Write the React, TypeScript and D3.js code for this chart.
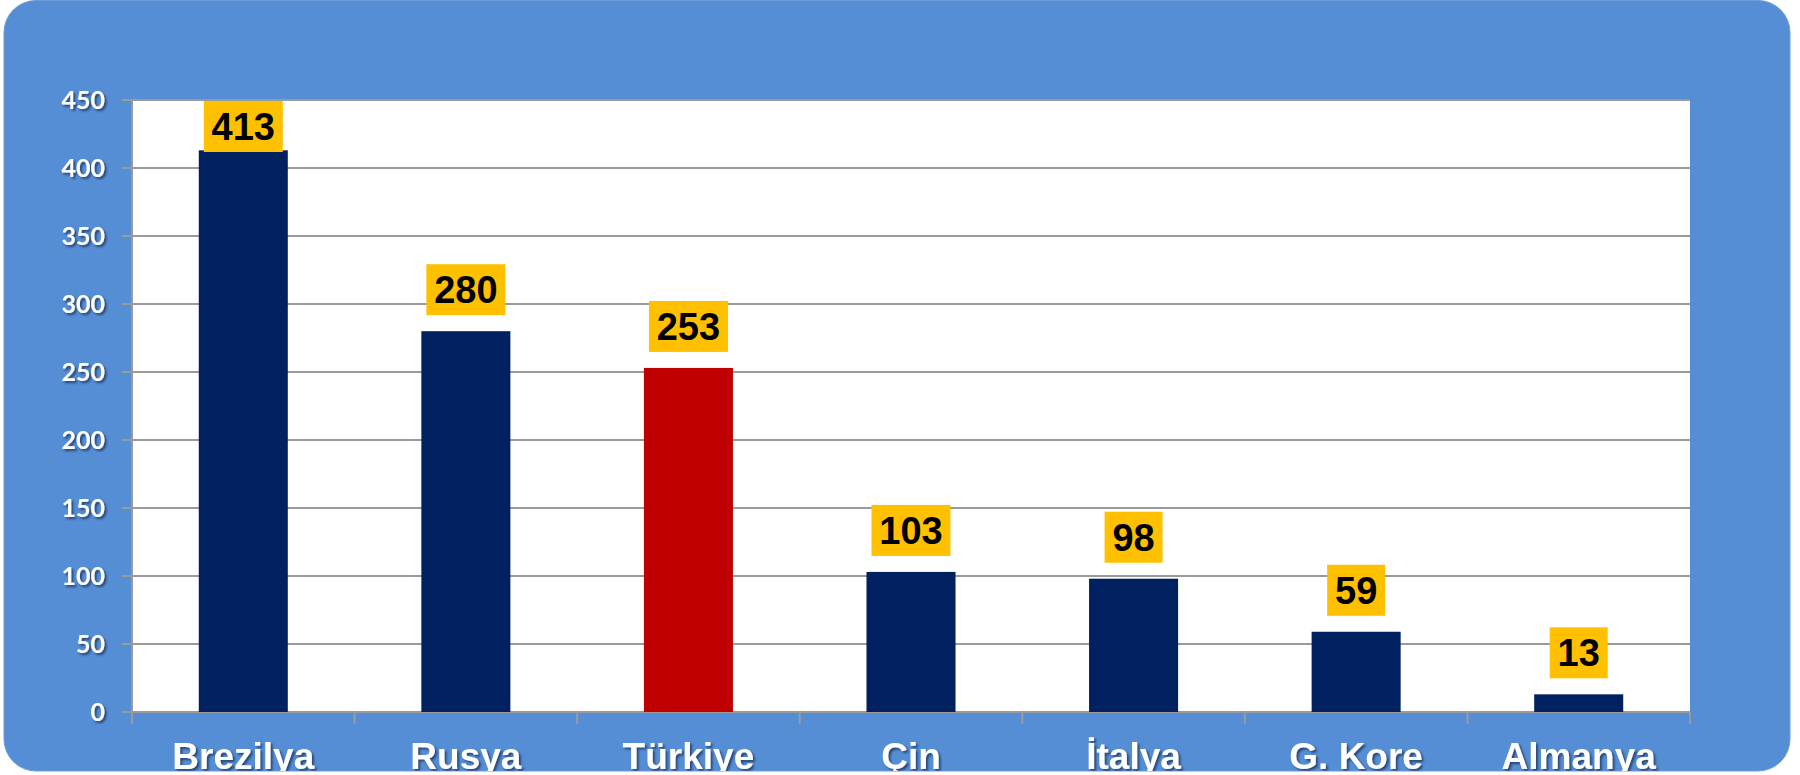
import React from "react";
import * as d3 from "d3";

const categories = ["Brezilya", "Rusya", "Türkiye", "Çin", "İtalya", "G. Kore", "Almanya"];
const values = [413, 280, 253, 103, 98, 59, 13];
const highlighted = "Türkiye";
const yTicks = [0, 50, 100, 150, 200, 250, 300, 350, 400, 450];

const W = 1800;
const H = 775;
const plot = { left: 132, right: 1690, top: 100, bottom: 712 };

export default function App() {
  const x = d3
    .scaleBand<string>()
    .domain(categories)
    .range([plot.left, plot.right])
    .paddingInner(0.6)
    .paddingOuter(0.3);
  const y = d3.scaleLinear().domain([0, 450]).range([plot.bottom, plot.top]);
  const step = x.step();
  const boundaries = d3.range(categories.length + 1).map((i) => plot.left + i * step);

  const labelFont = "'Liberation Sans', Arial, sans-serif";
  const tickFont = "Lato, 'Open Sans', sans-serif";

  return (
    <div style={{ position: "absolute", left: 0, top: 0 }}>
      <svg width={W} height={H} style={{ display: "block" }}>
        <defs>
          <filter id="shadow" x="-10%" y="-20%" width="130%" height="150%">
            <feDropShadow dx="2" dy="2" stdDeviation="1.2" floodColor="#1a2f55" floodOpacity="0.75" />
          </filter>
          <clipPath id="panelClip">
            <rect x={4} y={0} width={1786} height={771} rx={32} ry={32} />
          </clipPath>
        </defs>
        <rect x={0} y={0} width={W} height={H} fill="#ffffff" />
        <rect x={4} y={0.5} width={1786} height={770.5} rx={32} ry={32} fill="#558ED5" stroke="#6b9ddc" strokeWidth={1} />
        <rect
          x={plot.left}
          y={plot.top}
          width={plot.right - plot.left}
          height={plot.bottom - plot.top}
          fill="#ffffff"
        />
        {/* gridlines */}
        {yTicks.map((t) => (
          <line
            key={"g" + t}
            x1={plot.left - 10}
            x2={plot.right}
            y1={y(t)}
            y2={y(t)}
            stroke="#9a9a9a"
            strokeWidth={2}
          />
        ))}
        {/* left axis */}
        <line x1={plot.left} x2={plot.left} y1={plot.top} y2={plot.bottom} stroke="#9a9a9a" strokeWidth={2} />
        {/* bottom axis ticks */}
        {boundaries.map((b, i) => (
          <line key={"xt" + i} x1={b} x2={b} y1={plot.bottom} y2={plot.bottom + 12} stroke="#9a9a9a" strokeWidth={2} />
        ))}
        {/* bars */}
        {categories.map((c, i) => (
          <rect
            key={"b" + c}
            x={x(c)}
            y={y(values[i])}
            width={x.bandwidth()}
            height={y(0) - y(values[i])}
            fill={c === highlighted ? "#C00000" : "#002060"}
          />
        ))}
        {/* value labels */}
        {categories.map((c, i) => {
          const txt = String(values[i]);
          const bw = txt.length === 3 ? 79 : 58;
          const bh = 51;
          const cx = (x(c) as number) + x.bandwidth() / 2;
          let by = y(values[i]) - 16 - bh;
          if (by < plot.top + 1) by = plot.top + 1;
          return (
            <g key={"l" + c}>
              <rect x={cx - bw / 2} y={by} width={bw} height={bh} fill="#FFC000" />
              <text
                x={cx}
                y={by + 39}
                textAnchor="middle"
                fontFamily={labelFont}
                fontWeight="bold"
                fontSize={38}
                fill="#000000"
              >
                {txt}
              </text>
            </g>
          );
        })}
        {/* y tick labels */}
        {yTicks.map((t) => (
          <text
            key={"yl" + t}
            x={105}
            y={y(t) + 9}
            textAnchor="end"
            fontFamily={tickFont}
            fontWeight="bold"
            fontSize={25}
            fill="#ffffff"
            filter="url(#shadow)"
          >
            {t}
          </text>
        ))}
        {/* x labels */}
        <g clipPath="url(#panelClip)">
          {categories.map((c) => (
            <text
              key={"xl" + c}
              x={(x(c) as number) + x.bandwidth() / 2}
              y={769}
              textAnchor="middle"
              fontFamily={labelFont}
              fontWeight="bold"
              fontSize={37}
              fill="#ffffff"
              filter="url(#shadow)"
            >
              {c}
            </text>
          ))}
        </g>
      </svg>
    </div>
  );
}
